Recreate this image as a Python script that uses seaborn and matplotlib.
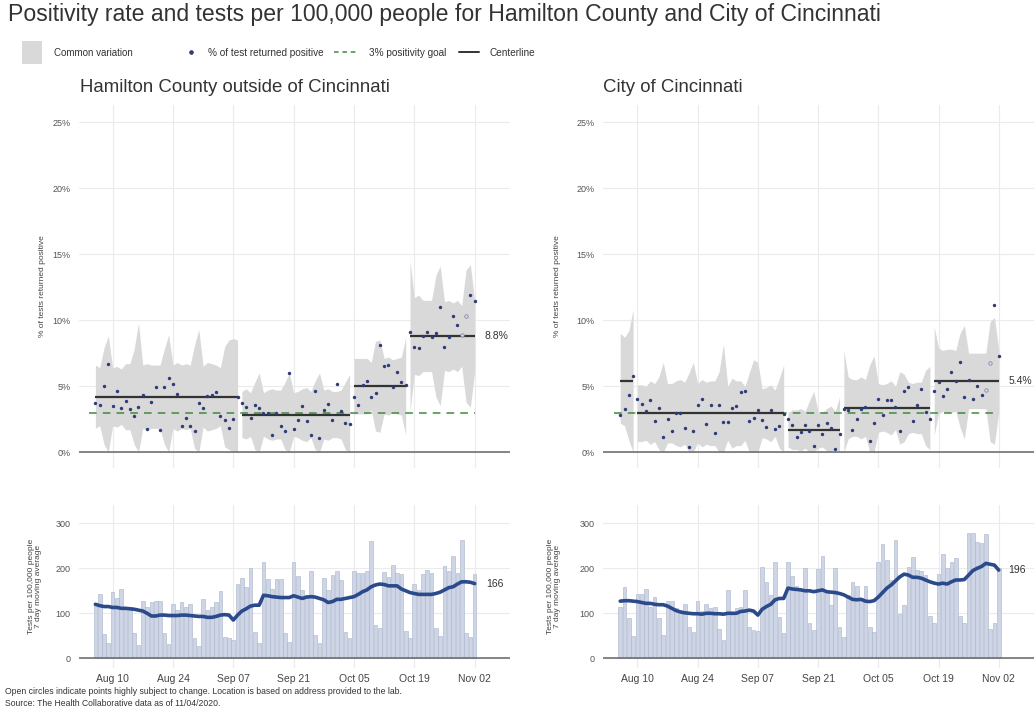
"""
Positivity rate and tests per 100,000 people - Hamilton County vs City of Cincinnati
"""
import pandas as pd
import matplotlib
matplotlib.use('Agg')
import matplotlib.pyplot as plt
import matplotlib.dates as mdates
from matplotlib.patches import Rectangle
import seaborn as sns

# ---------------------------------------------------------------- data
dates = pd.date_range('2020-08-06', '2020-11-02', freq='D')
date_ticks = pd.date_range('2020-08-10', '2020-11-02', freq='14D')
open_days = ['2020-10-30', '2020-10-31']
goal = 3.0

# Hamilton County outside of Cincinnati
county_pos = [3.74, 3.6, 5.0, 6.7, 3.46, 4.67, 3.38, 3.9, 3.26, 2.75, 3.4, 4.3, 1.74, 3.8, 4.9, 1.7, 4.9,
              5.6, 5.2, 4.4, 2.0, 2.6, 2.0, 1.64, 3.7, 3.33, 4.27, 4.3, 4.57, 2.73, 2.45, 1.8, 2.5, 4.17,
              3.74, 3.4, 2.58, 3.6, 3.36, 3.0, 3.0, 1.3, 3.0, 1.95, 1.64, 6.0, 1.74, 2.47, 3.46, 2.35, 1.3,
              4.67, 1.06, 3.2, 3.66, 2.47, 5.2, 3.1, 2.2, 2.1,
              4.17, 3.6, 5.1, 5.4, 4.2, 4.5, 8.1, 6.5, 6.6, 4.9, 6.06, 5.3, 5.1,
              9.14, 8.0, 7.9, 8.8, 9.1, 8.7, 9.0, 11.0, 8.0, 8.76, 10.3, 9.6, 8.9, 10.35, 11.9, 11.46]
county_upper = [6.6, 6.4, 7.9, 8.8, 6.4, 6.5, 6.3, 6.7, 6.7, 7.8, 9.8, 6.6, 6.7, 6.6, 6.6, 6.6, 7.8, 8.9,
                6.6, 6.8, 6.6, 6.7, 6.6, 8.1, 9.3, 6.5, 6.8, 6.7, 6.6, 6.4, 8.0, 8.5, 8.6, 8.5,
                4.6, 4.8, 4.5, 5.3, 6.0, 4.5, 4.7, 4.8, 4.7, 4.7, 5.3, 6.0, 4.5, 4.6, 4.8, 4.9, 4.6, 5.4,
                6.0, 4.7, 4.8, 4.6, 4.6, 4.7, 5.3, 5.9,
                7.1, 7.1, 7.1, 7.1, 6.8, 8.4, 8.5, 7.1, 7.2, 7.0, 7.1, 7.2, 8.7,
                14.5, 11.7, 11.9, 11.5, 11.5, 11.5, 13.4, 14.1, 11.4, 11.5, 11.3, 11.5, 11.1, 13.8, 14.2, 11.5]
county_lower = [1.8, 2.0, 0.6, 0.0, 2.0, 1.9, 2.1, 1.7, 1.7, 0.6, 0.0, 1.8, 1.7, 1.8, 1.8, 1.8, 0.6, 0.0,
                1.8, 1.6, 1.8, 1.7, 1.8, 0.3, 0.0, 1.9, 1.6, 1.7, 1.8, 2.0, 0.4, 0.2, 0.0, 0.0,
                1.1, 1.0, 1.2, 0.2, 0.0, 1.2, 1.0, 0.9, 1.0, 1.0, 0.2, 0.0, 1.2, 1.1, 0.9, 0.8, 1.1, 0.2,
                0.0, 1.0, 0.9, 1.1, 1.1, 1.0, 0.2, 0.0,
                2.9, 2.9, 2.9, 2.9, 3.2, 1.6, 1.5, 2.9, 2.8, 3.0, 2.9, 2.8, 1.3,
                3.1, 5.9, 5.8, 6.1, 6.1, 6.1, 4.2, 3.5, 6.2, 6.1, 6.3, 6.1, 6.5, 3.8, 3.4, 6.1]
county_tests = [121, 143, 53, 35,
                147, 133, 155, 115, 115, 56, 30,
                127, 113, 124, 127, 127, 56, 31,
                121, 107, 124, 115, 121, 46, 27,
                131, 107, 113, 126, 149, 48, 44,
                41, 164, 179, 159, 200, 59, 35,
                213, 176, 154, 176, 176, 56, 37,
                213, 183, 152, 140, 194, 52, 35,
                178, 152, 185, 193, 174, 59, 44,
                194, 190, 189, 193, 261, 74, 67,
                191, 181, 207, 189, 188, 61, 44,
                165, 152, 188, 197, 190, 67, 50,
                205, 193, 227, 190, 262, 56, 48,
                188]
county_avg = [120, 117, 115, 115, 113, 113, 111, 111, 110, 109, 107, 105, 100, 94, 94, 96, 96, 95, 95, 95,
              96, 96, 95, 94, 93, 93, 91, 91, 93, 96, 97, 96, 85, 96, 105, 110, 116, 118, 118, 140,
              139, 137, 136, 135, 135, 135, 139, 136, 133, 136, 137, 136, 133, 130, 124, 126, 131, 131, 133, 135,
              137, 142, 148, 152, 159, 163, 165, 164, 161, 161, 161, 154, 150, 146, 144, 142, 142, 142, 142, 144,
              147, 152, 157, 159, 165, 170, 170, 169, 166]
county_phase_start = ['2020-08-06', '2020-09-09', '2020-10-05', '2020-10-18']
county_phase_end = ['2020-09-08', '2020-10-04', '2020-10-17', '2020-11-02']
county_center = [4.2, 2.85, 5.0, 8.8]

# City of Cincinnati
city_pos = [2.85, 3.27, 4.3, 5.8,
            4.06, 3.63, 3.1, 3.95, 2.34, 3.35, 1.13, 2.52, 1.64, 2.95, 3.0, 1.81, 0.4, 1.64, 3.6, 4.03,
            2.17, 3.58, 1.44, 3.55, 2.32, 2.32, 3.35, 3.53, 4.53, 4.66, 2.34, 2.6, 3.22, 2.4, 1.89, 3.22,
            1.76, 2.0, 2.92,
            2.54, 2.09, 1.13, 1.51, 2.09, 1.64, 0.45, 2.09, 1.39, 2.2, 1.84, 0.25, 1.39,
            3.3, 3.22, 1.66, 2.52, 3.3, 3.45, 0.88, 2.2, 4.06, 2.85, 3.98, 3.98, 3.43, 1.64, 4.66, 4.94,
            2.34, 3.6, 4.79, 3.05, 2.52,
            4.66, 5.3, 4.28, 4.79, 6.05, 5.4, 6.83, 4.2, 5.45, 4.05, 5.05, 4.3, 4.74, 6.75, 11.16, 7.3]
city_upper = [9.0, 8.7, 9.2, 10.8,
              5.1, 5.1, 5.0, 5.4, 5.2, 5.7, 6.8, 5.2, 5.2, 5.4, 5.5, 5.3, 6.0, 6.8, 5.2, 5.5, 5.3, 5.4,
              5.4, 6.1, 8.2, 5.0, 5.6, 5.4, 5.4, 5.0, 6.0, 7.0, 6.8, 4.8, 4.9, 5.1, 4.7, 5.6, 6.6,
              3.0, 3.2, 3.2, 3.3, 3.1, 3.9, 4.6, 3.1, 3.0, 3.3, 3.5, 3.1, 4.2,
              7.7, 5.7, 5.5, 5.5, 5.7, 5.5, 6.6, 7.3, 5.2, 5.1, 5.2, 5.4, 5.0, 6.1, 5.9, 5.3, 5.2, 5.3,
              5.3, 6.2, 6.5,
              9.5, 7.9, 7.7, 7.8, 7.8, 7.7, 9.0, 9.6, 7.5, 7.5, 7.5, 7.5, 7.5, 9.9, 10.2, 7.8]
city_lower = [2.2, 2.0, 0.9, 0.0,
              0.8, 0.8, 0.9, 0.6, 0.8, 0.2, 0.0, 0.7, 0.7, 0.5, 0.4, 0.6, 0.0, 0.0, 0.7, 0.4, 0.6, 0.5,
              0.5, 0.0, 0.0, 0.9, 0.3, 0.5, 0.5, 0.9, 0.0, 0.0, 0.0, 1.1, 1.0, 0.8, 1.2, 0.3, 0.0,
              0.4, 0.2, 0.2, 0.1, 0.3, 0.0, 0.0, 0.3, 0.4, 0.1, 0.0, 0.3, 0.0,
              0.0, 1.0, 1.2, 1.2, 1.0, 1.2, 0.0, 0.0, 1.5, 1.6, 1.5, 1.3, 1.7, 0.6, 0.8, 1.4, 1.5, 1.4,
              1.4, 0.5, 0.2,
              1.3, 2.9, 3.1, 3.0, 3.0, 3.1, 1.9, 1.0, 3.3, 3.3, 3.3, 3.3, 3.3, 0.8, 0.6, 3.0]
city_tests = [113, 158, 90, 50,
              143, 143, 155, 115, 136, 89, 52,
              127, 128, 111, 100, 121, 69, 59,
              127, 104, 121, 111, 113, 65, 41,
              152, 96, 111, 114, 152, 69, 63,
              61, 202, 170, 140, 215, 92, 57,
              215, 183, 161, 150, 200, 79, 63,
              198, 227, 144, 119, 200, 69, 48,
              141, 169, 161, 133, 161, 69, 59,
              215, 254, 219, 175, 264, 99, 119,
              204, 226, 196, 194, 185, 93, 78,
              187, 231, 200, 213, 222, 94, 79,
              279, 279, 259, 256, 276, 64, 79,
              200]
city_avg = [127, 128, 128, 127, 126, 124, 122, 122, 120, 119, 119, 116, 111, 106, 103, 101, 100, 99, 99, 98,
            100, 100, 99, 99, 98, 100, 100, 100, 104, 105, 107, 105, 96, 109, 115, 120, 130, 133, 133, 156,
            154, 153, 152, 150, 150, 148, 150, 152, 148, 147, 146, 144, 141, 136, 131, 130, 131, 127, 126, 128,
            136, 146, 156, 163, 172, 181, 187, 185, 180, 180, 178, 174, 170, 167, 165, 167, 165, 170, 174, 174,
            175, 185, 195, 200, 204, 211, 209, 207, 196]
city_phase_start = ['2020-08-06', '2020-08-10', '2020-09-14', '2020-09-27', '2020-10-18']
city_phase_end = ['2020-08-09', '2020-09-13', '2020-09-26', '2020-10-17', '2020-11-02']
city_center = [5.4, 2.95, 1.7, 3.35, 5.4]

# ---------------------------------------------------------------- style
sns.set_theme(style='white')
plt.rcParams['font.family'] = ['Liberation Sans', 'DejaVu Sans']

BAND = '#d9d9d9'
DOT = '#2e3b78'
GOAL = '#3d8b3d'
BAR = '#cdd5e6'
AVG = '#2b4a8b'
GRID = '#ebebeb'
TXT = '#333333'

W, H = 1036, 713
fig = plt.figure(figsize=(W / 100, H / 100), dpi=100)


def px_axes(x0, y0, x1, y1):
    return fig.add_axes([x0 / W, 1 - y1 / H, (x1 - x0) / W, (y1 - y0) / H])


def base_style(ax, xlim):
    ax.set_xlim(xlim)
    for s in ax.spines.values():
        s.set_visible(False)
    ax.set_xticks(date_ticks)
    ax.grid(True, color=GRID, lw=0.8)
    ax.set_axisbelow(True)
    ax.tick_params(length=0, labelsize=6.5, labelcolor='#555555', pad=6)


def draw_positivity(ax, pos, upper, lower, starts, ends, centers, xlim, lab_x):
    base_style(ax, xlim)
    ax.set_ylim(-1.2, 26.3)
    ax.set_yticks([0, 5, 10, 15, 20, 25])
    ax.set_yticklabels([f'{v}%' for v in [0, 5, 10, 15, 20, 25]])
    ax.set_xticklabels([])

    up = pd.Series(upper, index=dates)
    lo = pd.Series(lower, index=dates)
    for s, e, c in zip(starts, ends, centers):
        ax.fill_between(up[s:e].index, lo[s:e].values, up[s:e].values, color=BAND, lw=0, zorder=1)
        ax.hlines(c, pd.Timestamp(s), pd.Timestamp(e), color=TXT, lw=1.6, zorder=3)

    ax.hlines(goal, dates[0] - pd.Timedelta(days=1.5), dates[-1], colors=GOAL,
              linestyles=(0, (5, 4)), lw=1.1, zorder=2)
    ax.axhline(0, color='#666666', lw=1.1, zorder=2)

    df = pd.DataFrame({'date': dates, 'pos': pos})
    is_open = df['date'].isin(pd.to_datetime(open_days))
    sns.scatterplot(data=df[~is_open], x='date', y='pos', ax=ax, s=6, color=DOT,
                    linewidth=0, zorder=4, legend=False)
    sns.scatterplot(data=df[is_open], x='date', y='pos', ax=ax, s=6, facecolor='#dfe2ec',
                    edgecolor='#7b86ad', linewidth=0.6, zorder=4, legend=False)

    ax.text(dates[-1] + pd.Timedelta(days=lab_x), centers[-1], f'{centers[-1]:.1f}%',
            va='center', ha='left', fontsize=7.5, color=TXT)
    ax.set_xlabel('')
    ax.set_ylabel('% of tests returned positive', fontsize=6, color='#444444')


def draw_tests(ax, tests, avg, xlim, lab_x):
    base_style(ax, xlim)
    ax.bar(dates, tests, width=0.85, color=BAR, edgecolor='#a9b3c8', linewidth=0.4, zorder=1)
    sns.lineplot(x=dates, y=avg, ax=ax, color=AVG, lw=2.6, zorder=3)
    ax.axhline(0, color='#666666', lw=1.1, zorder=2)
    ax.set_ylim(-21.6, 340.7)
    ax.set_yticks([0, 100, 200, 300])
    ax.xaxis.set_major_formatter(mdates.DateFormatter('%b %d'))
    ax.tick_params(axis='x', labelsize=7.5, labelcolor='#444444', pad=4)
    ax.text(dates[-1] + pd.Timedelta(days=lab_x), avg[-1], f'{avg[-1]}',
            va='center', ha='left', fontsize=7.5, color=TXT)
    ax.set_xlabel('')
    ax.set_ylabel('Tests per 100,000 people\n7 day moving average', fontsize=6,
                  color='#444444', linespacing=1.0)


d0 = dates[0]
xlim_l = (d0 - pd.Timedelta(days=3.8), d0 + pd.Timedelta(days=96.2))
xlim_r = (d0 - pd.Timedelta(days=4.0), d0 + pd.Timedelta(days=96.2))

ax1 = px_axes(79, 105, 510, 468)
ax2 = px_axes(603, 105, 1034, 468)
ax3 = px_axes(79, 505, 510, 668)
ax4 = px_axes(603, 505, 1034, 668)

draw_positivity(ax1, county_pos, county_upper, county_lower, county_phase_start,
                county_phase_end, county_center, xlim_l, 2.3)
draw_positivity(ax2, city_pos, city_upper, city_lower, city_phase_start,
                city_phase_end, city_center, xlim_r, 2.3)
draw_tests(ax3, county_tests, county_avg, xlim_l, 2.6)
draw_tests(ax4, city_tests, city_avg, xlim_r, 2.3)

ax1.yaxis.set_label_coords(-0.077, 0.5)
ax2.yaxis.set_label_coords(-0.097, 0.5)
ax3.yaxis.set_label_coords(-0.085, 0.5)
ax4.yaxis.set_label_coords(-0.097, 0.5)

# ---------------------------------------------------------------- titles, legend, notes
lax = fig.add_axes([0, 0, 1, 1])
lax.set_xlim(0, W)
lax.set_ylim(H, 0)
lax.axis('off')

lax.text(8, 15, 'Positivity rate and tests per 100,000 people for Hamilton County and City of Cincinnati',
         fontsize=16.6, color=TXT, va='center', ha='left')
lax.text(80, 88, 'Hamilton County outside of Cincinnati', fontsize=13.4, color=TXT, va='center')
lax.text(603, 88, 'City of Cincinnati', fontsize=13.4, color=TXT, va='center')

lax.add_patch(Rectangle((22, 41), 20, 23, color=BAND, lw=0))
lax.text(54, 52.5, 'Common variation', fontsize=7, color=TXT, va='center')
lax.plot([191], [52], 'o', ms=2.3, color=DOT)
lax.text(208, 52.5, '% of test returned positive', fontsize=7.2, color=TXT, va='center')
lax.plot([334, 357], [52, 52], color=GOAL, ls=(0, (3, 2.5)), lw=1.1)
lax.text(369, 52.5, '3% positivity goal', fontsize=7.2, color=TXT, va='center')
lax.plot([459, 479], [52, 52], color=TXT, lw=1.4)
lax.text(490, 52.5, 'Centerline', fontsize=7.2, color=TXT, va='center')

lax.text(5, 692, 'Open circles indicate points highly subject to change. '
         'Location is based on address provided to the lab.', fontsize=6.2, color=TXT, va='center')
lax.text(5, 704, 'Source: The Health Collaborative data as of 11/04/2020.',
         fontsize=6.2, color=TXT, va='center')

fig.savefig('out.png', dpi=100)
